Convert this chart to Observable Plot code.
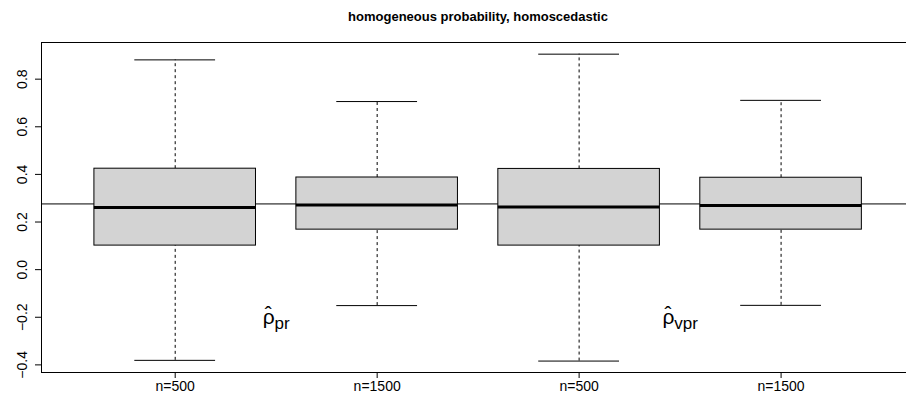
<!DOCTYPE html>
<html><head><meta charset="utf-8">
<script src="https://cdn.jsdelivr.net/npm/d3@7"></script>
<script src="https://cdn.jsdelivr.net/npm/@observablehq/plot@0.6"></script>
<style>
body{margin:0;background:#fff}
svg{display:block}
</style>
</head><body><div id="chart"></div>
<script>
const title = "homogeneous probability, homoscedastic";
const groups = ["n=500", "n=1500", "n=500", "n=1500"];
const positions = [1, 2, 3, 4];
const lowerWhisker = [-0.381, -0.151, -0.384, -0.150];
const q1 = [0.101, 0.168, 0.101, 0.168];
const median = [0.261, 0.271, 0.263, 0.269];
const q3 = [0.424, 0.387, 0.423, 0.386];
const upperWhisker = [0.881, 0.706, 0.905, 0.711];
const referenceValue = [0.276];
const yTicks = [-0.4, -0.2, 0.0, 0.2, 0.4, 0.6, 0.8];
const estimatorSubscripts = ["pr", "vpr"];
const labelX = [1.5, 3.5];
const labelY = [-0.2, -0.2];
const xDomain = [0.338, 4.621];
const yDomain = [-0.432, 0.954];

const boxes = positions.map((p, i) => ({
  pos: p, group: groups[i], lo: lowerWhisker[i], q1: q1[i], med: median[i], q3: q3[i], hi: upperWhisker[i]
}));
const labels = estimatorSubscripts.map((s, i) => ({x: labelX[i], y: labelY[i], sub: s}));
const fmt = d3.format(".1f");
const font = "'Liberation Sans', Arial, Helvetica, sans-serif";

const chart = Plot.plot({
  width: 906,
  height: 402,
  marginLeft: 41,
  marginRight: 0,
  marginTop: 42,
  marginBottom: 30,
  style: {fontFamily: font, background: "#fff", color: "#000"},
  x: {domain: xDomain, axis: null},
  y: {domain: yDomain, axis: null},
  marks: [
    Plot.ruleY(referenceValue, {stroke: "#000", strokeWidth: 1}),
    Plot.ruleX(boxes, {x: "pos", y1: "q3", y2: "hi", stroke: "#000", strokeDasharray: "3,3"}),
    Plot.ruleX(boxes, {x: "pos", y1: "lo", y2: "q1", stroke: "#000", strokeDasharray: "3,3"}),
    Plot.ruleY(boxes, {y: "hi", x1: d => d.pos - 0.2, x2: d => d.pos + 0.2, stroke: "#000"}),
    Plot.ruleY(boxes, {y: "lo", x1: d => d.pos - 0.2, x2: d => d.pos + 0.2, stroke: "#000"}),
    Plot.rect(boxes, {x1: d => d.pos - 0.4, x2: d => d.pos + 0.4, y1: "q1", y2: "q3", fill: "#d3d3d3", stroke: "#000", strokeWidth: 1}),
    Plot.ruleY(boxes, {y: "med", x1: d => d.pos - 0.4, x2: d => d.pos + 0.4, stroke: "#000", strokeWidth: 3}),
    Plot.ruleY([yDomain[1]], {stroke: "#000"}),
    Plot.ruleY([yDomain[0]], {stroke: "#000"}),
    Plot.ruleX([xDomain[0]], {stroke: "#000"}),
    Plot.axisY(yTicks, {anchor: "left", tickSize: 6, tickFormat: () => "", stroke: "#000"}),
    Plot.text(yTicks, {y: d => d, text: d => fmt(d), frameAnchor: "left", rotate: -90, dx: -19, textAnchor: "middle", lineAnchor: "middle", fontSize: 14, fill: "#000"}),
    Plot.axisX(positions, {anchor: "bottom", tickSize: 6, tickPadding: 3, tickFormat: d => groups[d - 1], fontSize: 14, stroke: "#000", fill: "#000"}),
    Plot.text(labels, {x: "x", y: "y", text: "sub", className: "estlab", fontSize: 21, textAnchor: "middle", lineAnchor: "middle", fill: "#000"}),
    Plot.text([title], {frameAnchor: "top", lineAnchor: "bottom", dy: -21.5, dx: 4, fontWeight: "bold", fontSize: 13, fill: "#000"})
  ]
});

d3.select(chart).selectAll(".estlab text").each(function() {
  const sub = this.textContent;
  const t = d3.select(this);
  t.text(null);
  t.append("tspan").text("\u03C1");
  t.append("tspan").attr("dx", "-0.47em").attr("dy", "-0.12em").text("\u02C6");
  t.append("tspan").attr("font-size", 17).attr("dx", "0.16em").attr("dy", "0.42em").text(sub);
});

document.getElementById("chart").appendChild(chart);
</script>
</body></html>
